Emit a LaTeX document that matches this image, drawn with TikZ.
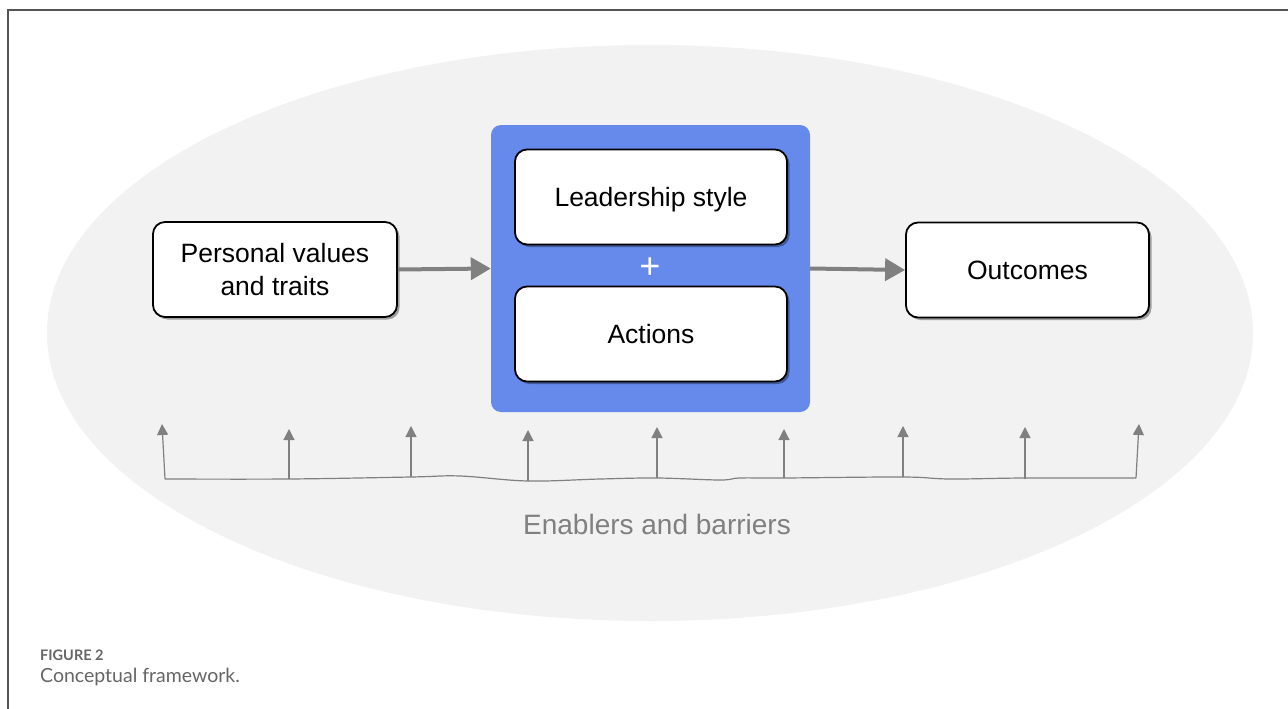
\documentclass[tikz,border=0pt]{standalone}
\usepackage{fontspec}
\setmainfont{Liberation Sans}
\newfontfamily\capfont{Lato}
\usetikzlibrary{arrows.meta,shadows,positioning}
\definecolor{ellgray}{HTML}{F2F2F2}
\definecolor{blockblue}{HTML}{6689EC}
\definecolor{arrgray}{HTML}{808080}
\definecolor{framegray}{HTML}{555555}
\definecolor{capgray}{HTML}{666666}
\tikzset{
  wbox/.style={draw=black, line width=1.8pt, fill=white, rounded corners=12pt,
    minimum width=#1, align=center, font=\fontsize{26.5}{33}\selectfont,
    drop shadow={shadow xshift=2.5pt, shadow yshift=-2.5pt, opacity=0.35, fill=black}},
  bigarrow/.style={draw=arrgray, line width=4pt, -{Triangle[width=22pt,length=20pt]}},
  smallarrow/.style={draw=arrgray, line width=1.2pt, -{Triangle[width=11pt,length=11pt]}},
}
\begin{document}
\begin{tikzpicture}[x=1pt,y=-1pt]
\useasboundingbox (0,0) rectangle (1288,709);
\fill[white] (0,0) rectangle (1288,709);
% frame
\draw[framegray, line width=1.5pt] (8,709) -- (8,10) -- (1288,10);
% ellipse background
\fill[ellgray] (650,333) ellipse [x radius=603, y radius=288];
% blue group
\node[fill=blockblue, rounded corners=10pt, minimum width=319pt, minimum height=287pt, inner sep=0pt] (grp) at (650.5,268.5) {};
\node[wbox=272pt, minimum height=95pt, text depth=0pt] (lead) at (651,197) {Leadership style};
\node[wbox=272pt, minimum height=95pt, text depth=0pt] (act) at (651,334) {Actions};
\node[text=white, font=\fontsize{36}{36}\selectfont] (plus) at (650,268) {+};
% side boxes
\node[wbox=244pt, minimum height=95pt] (pers) at (275,269.5) {Personal values\\and traits};
\node[wbox=243pt, minimum height=95pt, text depth=0pt] (outc) at (1027.5,270) {Outcomes};
% main arrows
\draw[bigarrow] (pers.east) -- (grp.west);
\draw[bigarrow] (grp.east) -- (outc.west);
% enablers & barriers
\coordinate (b1) at (165,479);
\coordinate (b2) at (289,479);
\coordinate (b3) at (411,477);
\coordinate (b4) at (528,481);
\coordinate (b5) at (657,478);
\coordinate (b6) at (784,478);
\coordinate (b7) at (903,477);
\coordinate (b8) at (1025,479);
\coordinate (b9) at (1136,478);
\coordinate (t1) at (162,424);
\coordinate (t2) at (289,429);
\coordinate (t3) at (411,426);
\coordinate (t4) at (528,430);
\coordinate (t5) at (657,427);
\coordinate (t6) at (784,429);
\coordinate (t7) at (903,426);
\coordinate (t8) at (1025,427);
\coordinate (t9) at (1139,424);
\draw[arrgray, line width=1.2pt] plot[smooth, tension=0.6] coordinates {(165,479) (289,479) (411,477) (460,476) (528,481) (600,479) (657,478) (720,480) (740,478) (784,478) (903,477) (950,479) (1025,478) (1136,478)};
\foreach \i in {1,...,9} {\draw[smallarrow] (b\i) -- (t\i);}
\node[text=arrgray, font=\fontsize{28}{30}\selectfont] (enab) at (657,524) {Enablers and barriers};
% caption
\node[anchor=west, text=capgray, font=\capfont\bfseries\fontsize{14.5}{16}\selectfont, inner sep=0pt] (figno) at (40,655) {FIGURE 2};
\node[anchor=west, text=capgray, font=\capfont\fontsize{19.5}{20}\selectfont, inner sep=0pt] (figcap) at (40,677) {Conceptual framework.};
\end{tikzpicture}
\end{document}
